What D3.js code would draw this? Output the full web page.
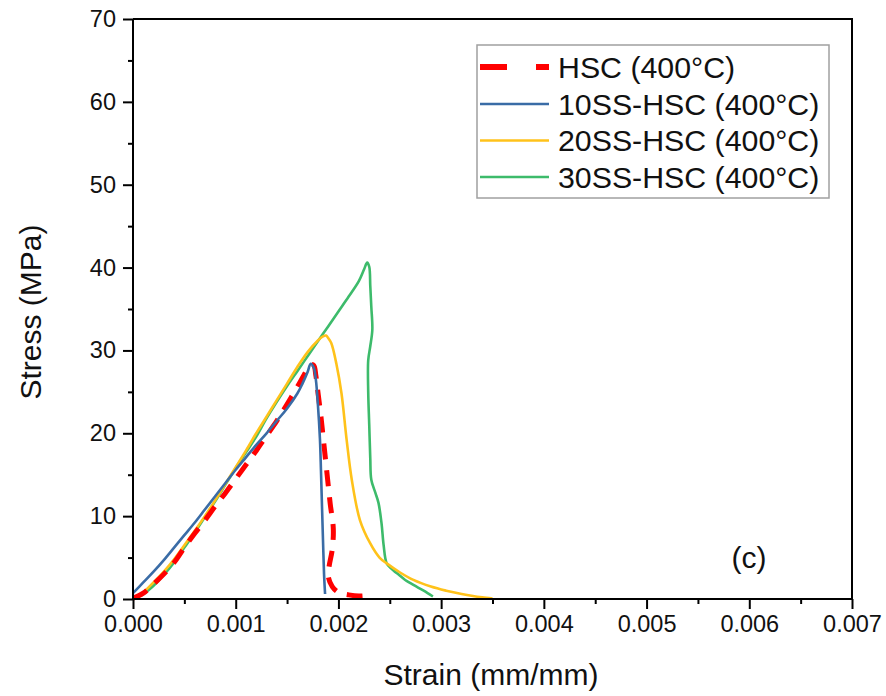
<!DOCTYPE html>
<html>
<head>
<meta charset="utf-8">
<script src="https://cdn.jsdelivr.net/npm/d3@7"></script>
<style>
  html, body { margin: 0; padding: 0; background: #fff; }
  svg { display: block; }
  text { font-family: "Liberation Sans", Arial, sans-serif; fill: #111; }
</style>
</head>
<body>
<svg id="chart" width="886" height="696"></svg>
<script>
// ---- Data (strain in mm/mm, stress in MPa) ----
const seriesNames = ["HSC (400°C)", "10SS-HSC (400°C)", "20SS-HSC (400°C)", "30SS-HSC (400°C)"];

const hscStrain = [0, 0.0001, 0.0002, 0.0003, 0.0004, 0.0005, 0.0006, 0.0007, 0.0008, 0.0009, 0.0010, 0.0011, 0.0012, 0.0013, 0.0014, 0.0015, 0.0016, 0.00165, 0.0017, 0.00173, 0.00176, 0.00178, 0.0018, 0.00183, 0.00186, 0.00189, 0.00192, 0.00195, 0.00194, 0.00191, 0.0019, 0.00194, 0.0020, 0.0021, 0.0022, 0.0023];
const hscStress = [0.1, 0.7, 1.8, 3.0, 4.4, 6.2, 7.9, 9.5, 11.2, 12.8, 14.5, 16.2, 17.9, 19.7, 21.5, 23.5, 25.6, 26.7, 27.8, 28.3, 28.2, 27.0, 25.0, 22.0, 18.5, 15.0, 11.5, 8.5, 6.0, 4.0, 2.8, 1.5, 0.8, 0.5, 0.35, 0.45];

const ss10Strain = [0, 0.0001, 0.0002, 0.0003, 0.0004, 0.0005, 0.0006, 0.0007, 0.0008, 0.0009, 0.0010, 0.0011, 0.0012, 0.0013, 0.0014, 0.0015, 0.0016, 0.00165, 0.0017, 0.00173, 0.00176, 0.00178, 0.0018, 0.00182, 0.00183, 0.00184, 0.00185, 0.00186, 0.00187];
const ss10Stress = [0.7, 2.0, 3.3, 4.7, 6.2, 7.7, 9.2, 10.8, 12.4, 14.0, 15.6, 17.1, 18.6, 20.0, 21.5, 23.0, 24.8, 26.0, 27.4, 28.4, 27.9, 26.5, 23.5, 19.3, 15.5, 11.2, 7.0, 3.0, 0.6];

const ss20Strain = [0, 0.0001, 0.0002, 0.0003, 0.0004, 0.0005, 0.0006, 0.0007, 0.0008, 0.0009, 0.0010, 0.0011, 0.0012, 0.0013, 0.0014, 0.0015, 0.0016, 0.0017, 0.0018, 0.00185, 0.00188, 0.0019, 0.00193, 0.00198, 0.00203, 0.00208, 0.00213, 0.00221, 0.00231, 0.0024, 0.00247, 0.0026, 0.00273, 0.0029, 0.00305, 0.0032, 0.00331, 0.0034, 0.0035];
const ss20Stress = [0, 0.8, 2.0, 3.3, 4.8, 6.5, 8.2, 10.0, 11.9, 13.9, 15.9, 17.9, 20.0, 22.0, 24.0, 26.0, 28.0, 29.8, 31.2, 31.7, 31.8, 31.5, 30.9, 28.4, 24.8, 19.2, 14.4, 9.5, 6.7, 5.0, 4.3, 3.2, 2.3, 1.5, 1.0, 0.6, 0.36, 0.2, 0.05];

const ss30Strain = [0, 0.0001, 0.0002, 0.0003, 0.0004, 0.0005, 0.0006, 0.0007, 0.0008, 0.0009, 0.0010, 0.0011, 0.0012, 0.0013, 0.0014, 0.0015, 0.0016, 0.0017, 0.0018, 0.0019, 0.0020, 0.0021, 0.0022, 0.00225, 0.00228, 0.0023, 0.00231, 0.00232, 0.00233, 0.00231, 0.00229, 0.00229, 0.0023, 0.00231, 0.00232, 0.00236, 0.00239, 0.00242, 0.00244, 0.00247, 0.00252, 0.00257, 0.00265, 0.00273, 0.00283, 0.00292];
const ss30Stress = [0, 0.6, 1.6, 2.9, 4.4, 6.2, 8.0, 9.9, 11.8, 13.8, 15.8, 17.7, 19.6, 21.8, 23.8, 25.7, 27.5, 29.3, 31.1, 32.9, 34.7, 36.5, 38.4, 39.8, 40.6, 40.1, 37.8, 35.3, 32.5, 30.5, 28.8, 25.0, 21.0, 17.0, 14.4, 12.8, 11.6, 9.1, 6.5, 4.3, 3.6, 3.1, 2.3, 1.7, 1.0, 0.3];

const xTicks = [0, 0.001, 0.002, 0.003, 0.004, 0.005, 0.006, 0.007];
const yTicks = [0, 10, 20, 30, 40, 50, 60, 70];

// ---- Layout ----
const L = 133, R = 852, T = 19, B = 599;
const svg = d3.select("#chart");
const x = d3.scaleLinear().domain([0, 0.007]).range([L, R]);
const y = d3.scaleLinear().domain([0, 70]).range([B, T]);

const series = [
  {name: seriesNames[0], xs: hscStrain, ys: hscStress, color: "#ff0000", width: 5, dash: "16,11", legDash: "27,29"},
  {name: seriesNames[1], xs: ss10Strain, ys: ss10Stress, color: "#3a6ca6", width: 2.6, dash: null},
  {name: seriesNames[2], xs: ss20Strain, ys: ss20Stress, color: "#ffc21a", width: 2.6, dash: null},
  {name: seriesNames[3], xs: ss30Strain, ys: ss30Stress, color: "#3dbb6b", width: 2.6, dash: null}
];

// ---- Curves ----
const line = d3.line().x(d => x(d[0])).y(d => y(d[1])).curve(d3.curveCatmullRom.alpha(0.5));
const plotG = svg.append("g");
[3, 2, 0, 1].forEach(i => {
  const s = series[i];
  plotG.append("path")
    .datum(s.xs.map((v, k) => [v, s.ys[k]]))
    .attr("d", line)
    .attr("fill", "none")
    .attr("stroke", s.color)
    .attr("stroke-width", s.width)
    .attr("stroke-linejoin", "round")
    .attr("stroke-dasharray", s.dash);
});

// ---- Axes ----
const fontTick = 23.5;
const xAxis = d3.axisBottom(x).tickValues(xTicks).tickFormat(d3.format(".3f")).tickSize(10).tickPadding(6);
const gx = svg.append("g").attr("transform", `translate(0,${B})`).call(xAxis);
gx.selectAll(".tick text").attr("font-size", fontTick).attr("font-family", "Liberation Sans, Arial, sans-serif").attr("fill", "#111");
const xMinor = d3.axisBottom(x).tickValues(d3.range(0.0005, 0.007, 0.001)).tickSize(5).tickFormat("");
svg.append("g").attr("transform", `translate(0,${B})`).call(xMinor).select(".domain").remove();

const yAxis = d3.axisLeft(y).tickValues(yTicks).tickSize(10).tickPadding(7);
const gy = svg.append("g").attr("transform", `translate(${L},0)`).call(yAxis);
gy.selectAll(".tick text").attr("font-size", fontTick).attr("font-family", "Liberation Sans, Arial, sans-serif").attr("fill", "#111");
const yMinor = d3.axisLeft(y).tickValues(d3.range(5, 70, 10)).tickSize(5).tickFormat("");
svg.append("g").attr("transform", `translate(${L},0)`).call(yMinor).select(".domain").remove();

svg.selectAll(".domain").attr("stroke", "#000").attr("stroke-width", 2);
svg.selectAll(".tick line").attr("stroke", "#000").attr("stroke-width", 2);
gx.select(".domain").attr("d", `M${L},0H${R}`);
gy.select(".domain").attr("d", `M0,${B}V${T}`);

// top and right frame
svg.append("path").attr("d", `M${L},${T}H${R}V${B}`).attr("fill", "none").attr("stroke", "#000").attr("stroke-width", 2);

// ---- Axis titles ----
svg.append("text").attr("x", 491).attr("y", 685).attr("text-anchor", "middle").attr("font-size", 30).text("Strain (mm/mm)");
svg.append("text").attr("transform", "translate(41,312) rotate(-90)").attr("text-anchor", "middle").attr("font-size", 30).text("Stress (MPa)");

// ---- Panel label ----
svg.append("text").attr("x", 749).attr("y", 557).attr("text-anchor", "middle").attr("dominant-baseline", "central").attr("font-size", 30).text("(c)");

// ---- Legend ----
const leg = svg.append("g");
leg.append("rect").attr("x", 477).attr("y", 45).attr("width", 352).attr("height", 153)
  .attr("fill", "#fff").attr("stroke", "#a0a0a0").attr("stroke-width", 1.5);
const legY = [67, 104, 140.5, 177];
series.forEach((s, i) => {
  leg.append("line").attr("x1", 480).attr("x2", 549).attr("y1", legY[i]).attr("y2", legY[i])
    .attr("stroke", s.color).attr("stroke-width", s.dash ? 6 : 2.6)
    .attr("stroke-dasharray", s.legDash || null);
  leg.append("text").attr("x", 558).attr("y", legY[i]).attr("dominant-baseline", "central")
    .attr("font-size", 30.3).text(s.name);
});
</script>
</body>
</html>
